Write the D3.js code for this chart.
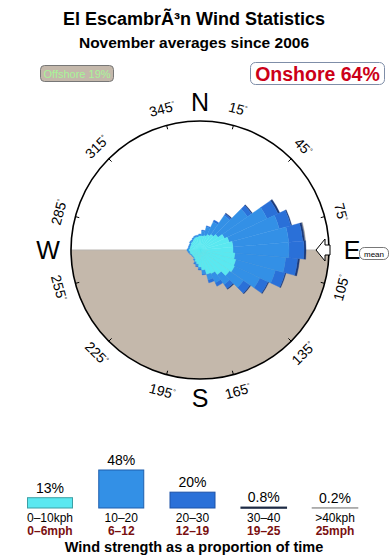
<!DOCTYPE html>
<html>
<head>
<meta charset="utf-8">
<script src="https://cdn.jsdelivr.net/npm/d3@7"></script>
<style>
body { margin: 0; background: #fff; }
svg { display: block; font-family: "Liberation Sans", Arial, sans-serif; }
</style>
</head>
<body>
<div id="chart"></div>
<script>
// direction sectors (degrees, where the wind comes from)
const directions = [0, 10, 20, 30, 40, 50, 60, 70, 80, 90, 100, 110, 120, 130, 140, 150, 160, 170,
    180, 190, 200, 210, 220, 230, 240, 250, 260, 270, 280, 290, 300, 310, 320, 330, 340, 350];

// relative frequency per sector for each speed band
const band0to10 = [14, 14, 15, 17, 19, 22, 27, 30, 33, 33, 35, 37, 38, 36, 30, 26, 25, 20,
    17, 14, 12, 10, 9, 9, 9, 10, 10, 11, 10, 10, 10, 11, 11, 12, 13, 13];
const band10to20 = [2, 5, 9, 14, 23, 36, 47, 52, 56, 56, 51, 41, 28, 17, 12, 10, 6, 4,
    2, 2, 2, 2, 1, 1, 1, 1, 2, 2, 2, 2, 2, 2, 2, 2, 2, 2];
const band20to30 = [0, 1, 1, 2, 2, 5, 12, 12, 14, 15, 12, 10, 9, 8, 5, 4, 3, 1,
    1, 1, 1, 0, 0, 0, 0, 0, 0, 0, 0, 0, 0, 0, 0, 0, 0, 0];
const band30to40 = [0, 0, 0, 0, 1, 1, 2, 1, 2, 2, 2, 1, 1, 1, 1, 0, 0, 0,
    0, 0, 0, 0, 0, 0, 0, 0, 0, 0, 0, 0, 0, 0, 0, 0, 0, 0];
const bandOver40 = [0, 0, 0, 0, 0, 0, 0, 0, 1, 0, 0, 0, 0, 0, 0, 0, 0, 0,
    0, 0, 0, 0, 0, 0, 0, 0, 0, 0, 0, 0, 0, 0, 0, 0, 0, 0];

const bandColors = ["#5ae8f0", "#3390e6", "#2a70d8", "#1d3a78", "#9a9a9a"];
const bandStrokes = ["#3c9fa4", "#1f5fae", "#1d52a8", "#1d2a44", "#a8a8a8"];

// proportion of time per speed band
const barValues = [13, 48, 20, 0.8, 0.2];
const barText = ["13%", "48%", "20%", "0.8%", "0.2%"];
const kphLabels = ["0\u201310kph", "10\u201320", "20\u201330", "30\u201340", ">40kph"];
const mphLabels = ["0\u20136mph", "6\u201312", "12\u201319", "19\u201325", "25mph"];

const tickAngles = [15, 45, 75, 105, 135, 165, 195, 225, 255, 285, 315, 345];
const compass = [["N", 0], ["E", 90], ["S", 180], ["W", 270]];
const meanDirection = 90;
const offshorePct = 19;
const onshorePct = 64;

const width = 390, height = 560;
const cx = 200, cy = 250, R = 129;

const svg = d3.select("#chart").append("svg")
    .attr("width", width)
    .attr("height", height);

// titles
svg.append("text").attr("x", 194).attr("y", 25)
    .attr("text-anchor", "middle").attr("font-size", 18).attr("font-weight", "bold")
    .text("El EscambrÃ³n Wind Statistics");
svg.append("text").attr("x", 194).attr("y", 48)
    .attr("text-anchor", "middle").attr("font-size", 15.5).attr("font-weight", "bold")
    .text("November averages since 2006");

// offshore / onshore boxes
svg.append("rect").attr("x", 40.5).attr("y", 65.5).attr("width", 73).attr("height", 16)
    .attr("rx", 4).attr("fill", "#c4b8ab").attr("stroke", "#777");
svg.append("text").attr("x", 77).attr("y", 77.5)
    .attr("text-anchor", "middle").attr("font-size", 11).attr("fill", "#a8f598")
    .text(`Offshore ${offshorePct}%`);
svg.append("rect").attr("x", 250.5).attr("y", 62.5).attr("width", 134).attr("height", 22)
    .attr("rx", 5).attr("fill", "#fff").attr("stroke", "#7f8ea8");
svg.append("text").attr("x", 317.5).attr("y", 80.5)
    .attr("text-anchor", "middle").attr("font-size", 19.5).attr("font-weight", "bold")
    .attr("fill", "#cc0018")
    .text(`Onshore ${onshorePct}%`);

const rose = svg.append("g").attr("transform", `translate(${cx},${cy})`);

// offshore half (south side)
rose.append("path")
    .attr("d", d3.arc()({ innerRadius: 0, outerRadius: R, startAngle: Math.PI / 2, endAngle: Math.PI * 1.5 }))
    .attr("fill", "#c4b8ab");
rose.append("line").attr("x1", -R).attr("x2", R).attr("y1", 0).attr("y2", 0)
    .attr("stroke", "#b8b4b0").attr("stroke-width", 1);

// stacked wind rose
const rScale = d3.scaleLinear().domain([0, 129]).range([0, R]);
const bands = [band0to10, band10to20, band20to30, band30to40, bandOver40];
const table = directions.map((d, i) => {
    const row = { dir: d };
    bands.forEach((b, k) => { row["b" + k] = b[i]; });
    return row;
});
const stack = d3.stack().keys(bands.map((b, k) => "b" + k))(table);
const halfStep = (directions[1] - directions[0]) / 2;
const arc = d3.arc();
const rad = d => d * Math.PI / 180;

stack.slice().reverse().forEach(layer => {
    const k = layer.index;
    rose.append("g").selectAll("path")
        .data(layer.filter(s => s[1] > s[0]))
        .join("path")
        .attr("d", s => arc({
            innerRadius: rScale(s[0]),
            outerRadius: rScale(s[1]),
            startAngle: rad(s.data.dir - halfStep),
            endAngle: rad(s.data.dir + halfStep)
        }))
        .attr("fill", bandColors[k])
        .attr("stroke", bandColors[k])
        .attr("stroke-width", 0.4);
});

// outer circle
rose.append("circle").attr("r", R).attr("fill", "none")
    .attr("stroke", "#000").attr("stroke-width", 1.6);

// ticks and degree labels
rose.selectAll(".tick").data(tickAngles).join("line")
    .attr("class", "tick")
    .attr("x1", d => (R - 4) * Math.sin(rad(d)))
    .attr("y1", d => -(R - 4) * Math.cos(rad(d)))
    .attr("x2", d => R * Math.sin(rad(d)))
    .attr("y2", d => -R * Math.cos(rad(d)))
    .attr("stroke", "#000").attr("stroke-width", 1);

const degLabels = rose.selectAll(".deg").data(tickAngles).join("text")
    .attr("class", "deg")
    .attr("transform", d => {
        const x = 146 * Math.sin(rad(d)), y = -146 * Math.cos(rad(d));
        const rot = ((d + 90) % 180) - 90;
        return `translate(${x},${y}) rotate(${rot})`;
    })
    .attr("text-anchor", "middle")
    .attr("dy", "0.35em")
    .attr("font-size", 14);
degLabels.append("tspan").text(d => d);
degLabels.append("tspan").attr("font-size", 7).attr("dy", "-0.7em").text("\u00b0");

// compass letters
rose.selectAll(".cmp").data(compass).join("text")
    .attr("class", "cmp")
    .attr("x", d => 152 * Math.sin(rad(d[1])))
    .attr("y", d => -148 * Math.cos(rad(d[1])))
    .attr("dy", "0.36em")
    .attr("text-anchor", "middle")
    .attr("font-size", 25)
    .text(d => d[0]);

// mean direction arrow
const arrow = rose.append("g").attr("transform", `rotate(${meanDirection - 90})`);
arrow.append("path")
    .attr("d", "M116,0 L125,-11 L125,-5 L130,-5 L130,5 L125,5 L125,11 Z")
    .attr("fill", "#fff").attr("stroke", "#000").attr("stroke-width", 1);

svg.append("rect").attr("x", 359.5).attr("y", 247.5).attr("width", 29).attr("height", 12)
    .attr("rx", 5).attr("fill", "#fff").attr("stroke", "#555").attr("stroke-width", 0.8);
svg.append("text").attr("x", 374).attr("y", 256.5).attr("text-anchor", "middle")
    .attr("font-size", 8).text("mean");

// speed distribution bars
const xBar = d3.scalePoint().domain(kphLabels).range([50, 335]);
const yBar = d3.scaleLinear().domain([0, 48]).range([0, 38]);
const barBase = 508, barW = 45;
const bars = svg.append("g");

bars.selectAll("rect").data(barValues).join("rect")
    .attr("x", (d, i) => xBar(kphLabels[i]) - barW / 2)
    .attr("y", d => barBase - yBar(d))
    .attr("width", barW)
    .attr("height", d => yBar(d))
    .attr("fill", (d, i) => bandColors[i])
    .attr("stroke", (d, i) => bandStrokes[i])
    .attr("stroke-width", (d, i) => i < 3 ? 1 : 1.6);

bars.selectAll(".pct").data(barValues).join("text")
    .attr("class", "pct")
    .attr("x", (d, i) => xBar(kphLabels[i]))
    .attr("y", d => barBase - yBar(d) - 5)
    .attr("text-anchor", "middle").attr("font-size", 14)
    .text((d, i) => barText[i]);

bars.selectAll(".kph").data(kphLabels).join("text")
    .attr("class", "kph")
    .attr("x", d => xBar(d)).attr("y", 521.5)
    .attr("text-anchor", "middle").attr("font-size", 12)
    .text(d => d);

bars.selectAll(".mph").data(mphLabels).join("text")
    .attr("class", "mph")
    .attr("x", (d, i) => xBar(kphLabels[i])).attr("y", 535)
    .attr("text-anchor", "middle").attr("font-size", 12).attr("font-weight", "bold")
    .attr("fill", "#7a1010")
    .text(d => d);

svg.append("text").attr("x", 194).attr("y", 552)
    .attr("text-anchor", "middle").attr("font-size", 14.5).attr("font-weight", "bold")
    .text("Wind strength as a proportion of time");
</script>
</body>
</html>
